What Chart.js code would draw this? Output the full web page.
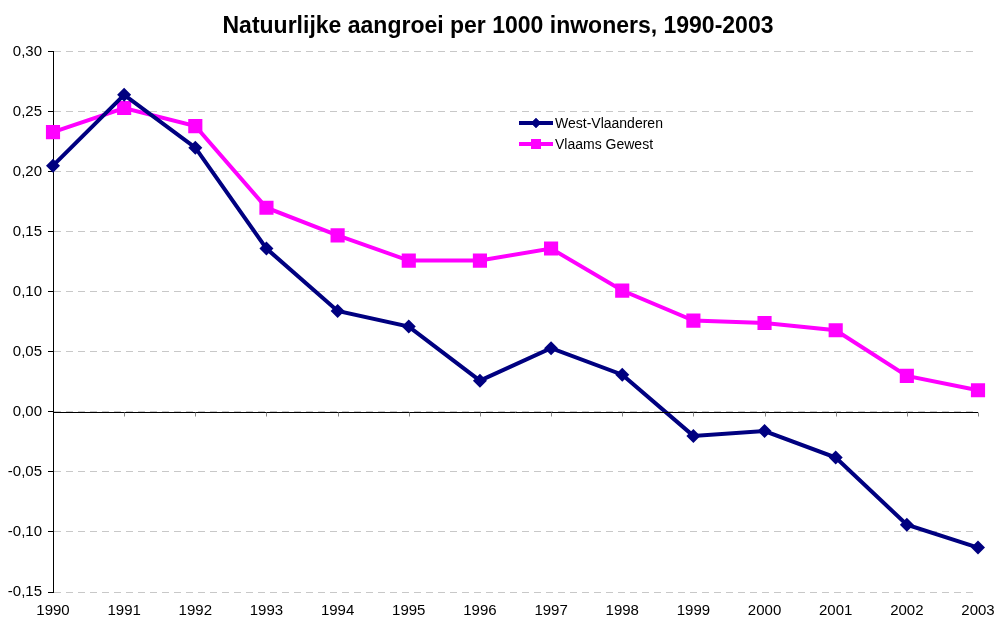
<!DOCTYPE html>
<html>
<head>
<meta charset="utf-8">
<script src="https://cdn.jsdelivr.net/npm/chart.js@4.4.1/dist/chart.umd.min.js"></script>
<style>
  html, body { margin: 0; padding: 0; background: #fff; }
  #wrap { width: 996px; height: 623px; }
</style>
</head>
<body>
<div id="wrap"><canvas id="chart"></canvas></div>
<script>
// data
const years = ['1990', '1991', '1992', '1993', '1994', '1995', '1996', '1997', '1998', '1999', '2000', '2001', '2002', '2003'];
const westVlaanderen = [0.205, 0.264, 0.220, 0.136, 0.084, 0.071, 0.026, 0.053, 0.031, -0.020, -0.016, -0.038, -0.094, -0.113];
const vlaamsGewest = [0.233, 0.253, 0.238, 0.170, 0.147, 0.126, 0.126, 0.136, 0.101, 0.076, 0.074, 0.068, 0.030, 0.018];

const NAVY = '#000080';
const MAGENTA = '#FF00FF';
const FONT = 'Arial, "Liberation Sans", sans-serif';

// zero line + small tick marks, and the legend box
const extras = {
    id: 'extras',
    afterDatasetsDraw(chart) {
        const ctx = chart.ctx;
        const x = chart.scales.x;
        const y = chart.scales.y;
        const y0 = Math.round(y.getPixelForValue(0)) + 0.5;

        ctx.save();
        ctx.strokeStyle = '#000';
        ctx.lineWidth = 1;
        ctx.beginPath();
        ctx.moveTo(chart.chartArea.left, y0);
        ctx.lineTo(chart.chartArea.right, y0);
        ctx.stroke();

        ctx.strokeStyle = '#888';
        for (let i = 1; i < years.length; i++) {
            const px = Math.round(x.getPixelForValue(i)) + 0.5;
            ctx.beginPath();
            ctx.moveTo(px, y0);
            ctx.lineTo(px, y0 + 4);
            ctx.stroke();
        }
        ctx.restore();

        // legend
        const items = [
            { label: 'West-Vlaanderen', color: NAVY, style: 'rectRot', r: 5 },
            { label: 'Vlaams Gewest', color: MAGENTA, style: 'rect', r: 7 }
        ];
        ctx.save();
        ctx.font = '14px ' + FONT;
        ctx.textBaseline = 'middle';
        items.forEach((it, i) => {
            const ly = 123 + i * 21;
            ctx.strokeStyle = it.color;
            ctx.lineWidth = 4;
            ctx.beginPath();
            ctx.moveTo(519, ly);
            ctx.lineTo(553, ly);
            ctx.stroke();
            ctx.fillStyle = it.color;
            Chart.helpers.drawPoint(ctx, { pointStyle: it.style, radius: it.r, rotation: 0, borderWidth: 0 }, 536, ly);
            ctx.fill();
            ctx.fillStyle = '#000';
            ctx.fillText(it.label, 555, ly + 1);
        });
        ctx.restore();
    }
};

new Chart(document.getElementById('chart'), {
    type: 'line',
    data: {
        labels: years,
        datasets: [
            {
                label: 'West-Vlaanderen',
                data: westVlaanderen,
                borderColor: NAVY,
                backgroundColor: NAVY,
                borderWidth: 4,
                tension: 0,
                pointStyle: 'rectRot',
                pointRadius: 7,
                pointBorderWidth: 0,
                pointBackgroundColor: NAVY
            },
            {
                label: 'Vlaams Gewest',
                data: vlaamsGewest,
                borderColor: MAGENTA,
                backgroundColor: MAGENTA,
                borderWidth: 4,
                tension: 0,
                pointStyle: 'rect',
                pointRadius: 10,
                pointBorderWidth: 0,
                pointBackgroundColor: MAGENTA
            }
        ]
    },
    options: {
        responsive: true,
        maintainAspectRatio: false,
        animation: false,
        devicePixelRatio: 1,
        layout: { padding: { left: 0, right: 0, top: 0, bottom: 0 } },
        plugins: {
            legend: { display: false },
            tooltip: { enabled: false },
            title: {
                display: true,
                text: 'Natuurlijke aangroei per 1000 inwoners, 1990-2003',
                color: '#000',
                font: { family: FONT, size: 23, weight: 'bold' },
                padding: { top: 13, bottom: 11 }
            }
        },
        scales: {
            x: {
                offset: false,
                afterFit(scale) {
                    scale.height = 31;
                    scale.paddingRight = 18;
                },
                grid: { display: false, drawTicks: false },
                border: { display: false },
                ticks: {
                    color: '#000',
                    font: { family: FONT, size: 15 },
                    maxRotation: 0,
                    autoSkip: false,
                    padding: 10
                }
            },
            y: {
                min: -0.15,
                max: 0.30,
                afterFit(scale) { scale.width = 53; },
                ticks: {
                    stepSize: 0.05,
                    color: '#000',
                    font: { family: FONT, size: 15 },
                    padding: 6,
                    callback: v => v.toFixed(2).replace('.', ',')
                },
                grid: {
                    color: '#c8c8c8',
                    tickColor: '#000',
                    tickLength: 5,
                    tickBorderDash: [],
                    lineWidth: 1
                },
                border: { display: true, color: '#000', width: 1, dash: [7, 5] }
            }
        }
    },
    plugins: [extras]
});
</script>
</body>
</html>
